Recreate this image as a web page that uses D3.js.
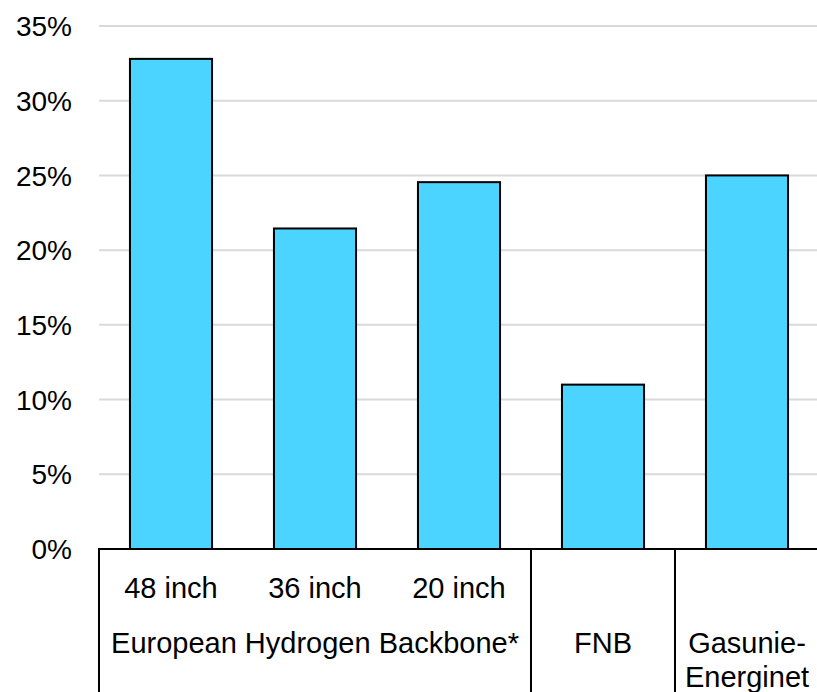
<!DOCTYPE html>
<html><head><meta charset="utf-8">
<script src="https://cdn.jsdelivr.net/npm/d3@7"></script>
<style>html,body{margin:0;padding:0;background:#fff}</style>
</head><body>
<script>
const categories = ["48 inch", "36 inch", "20 inch", "FNB", "Gasunie-\nEnerginet"];
const values = [32.8, 21.45, 24.55, 11.0, 25.0];
const groups = [
  {label: "European Hydrogen Backbone*", from: 0, to: 2},
  {label: "FNB", from: 3, to: 3},
  {label: "Gasunie-\nEnerginet", from: 4, to: 4}
];
const yTicks = [0, 5, 10, 15, 20, 25, 30, 35];

(function () {
const W = 817, H = 692;
const mLeft = 99, mRight = 819, mTop = 26, mBottom = 549;
const font = "'Liberation Sans', Arial, sans-serif";
const fsTick = 28, fsCat = 29;

const svg = d3.select("body").append("svg").attr("width", W).attr("height", H);

const x = d3.scaleBand().domain(d3.range(categories.length)).range([mLeft, mRight])
  .paddingInner(0.43).paddingOuter(0.215);
const y = d3.scaleLinear().domain([0, 35]).range([mBottom, mTop]);
const step = x.step();
const bound = i => mLeft + step * i;

// gridlines
svg.append("g").selectAll("line").data(yTicks.filter(d => d > 0)).join("line")
  .attr("x1", mLeft).attr("x2", W).attr("y1", d => y(d)).attr("y2", d => y(d))
  .attr("stroke", "#d9d9d9").attr("stroke-width", 2);

// y tick labels
svg.append("g").selectAll("text").data(yTicks).join("text")
  .attr("x", 72).attr("y", d => y(d)).attr("dy", "0.36em")
  .attr("text-anchor", "end").attr("font-family", font).attr("font-size", fsTick).attr("fill", "#000")
  .text(d => d + "%");

// bars
svg.append("g").selectAll("rect").data(values).join("rect")
  .attr("x", (d, i) => x(i)).attr("width", x.bandwidth())
  .attr("y", d => y(d)).attr("height", d => y(0) - y(d))
  .attr("fill", "#4ad4ff").attr("stroke", "#000").attr("stroke-width", 2);

// axis line
svg.append("line").attr("x1", mLeft - 1).attr("x2", W).attr("y1", y(0)).attr("y2", y(0))
  .attr("stroke", "#000").attr("stroke-width", 2);

// group separators
svg.append("g").selectAll("line").data([0, 3, 4]).join("line")
  .attr("x1", d => bound(d)).attr("x2", d => bound(d))
  .attr("y1", y(0)).attr("y2", H)
  .attr("stroke", "#000").attr("stroke-width", 2);

// inner labels for EHB subcategories
svg.append("g").selectAll("text").data([0, 1, 2]).join("text")
  .attr("x", i => x(i) + x.bandwidth() / 2).attr("y", 598)
  .attr("text-anchor", "middle").attr("font-family", font).attr("font-size", fsCat).attr("fill", "#000")
  .text(i => categories[i]);

// group labels
const gl = svg.append("g").selectAll("text").data(groups).join("text")
  .attr("text-anchor", "middle").attr("font-family", font).attr("font-size", fsCat).attr("fill", "#000")
  .attr("y", 653);
gl.each(function (g) {
  const t = d3.select(this);
  const cx = g.from === g.to ? x(g.from) + x.bandwidth() / 2 : (bound(g.from) + bound(g.to + 1)) / 2;
  g.label.split("\n").forEach((s, k) => {
    t.append("tspan").attr("x", cx).attr("dy", k === 0 ? 0 : 34).text(s);
  });
});
})();
</script>
</body></html>
